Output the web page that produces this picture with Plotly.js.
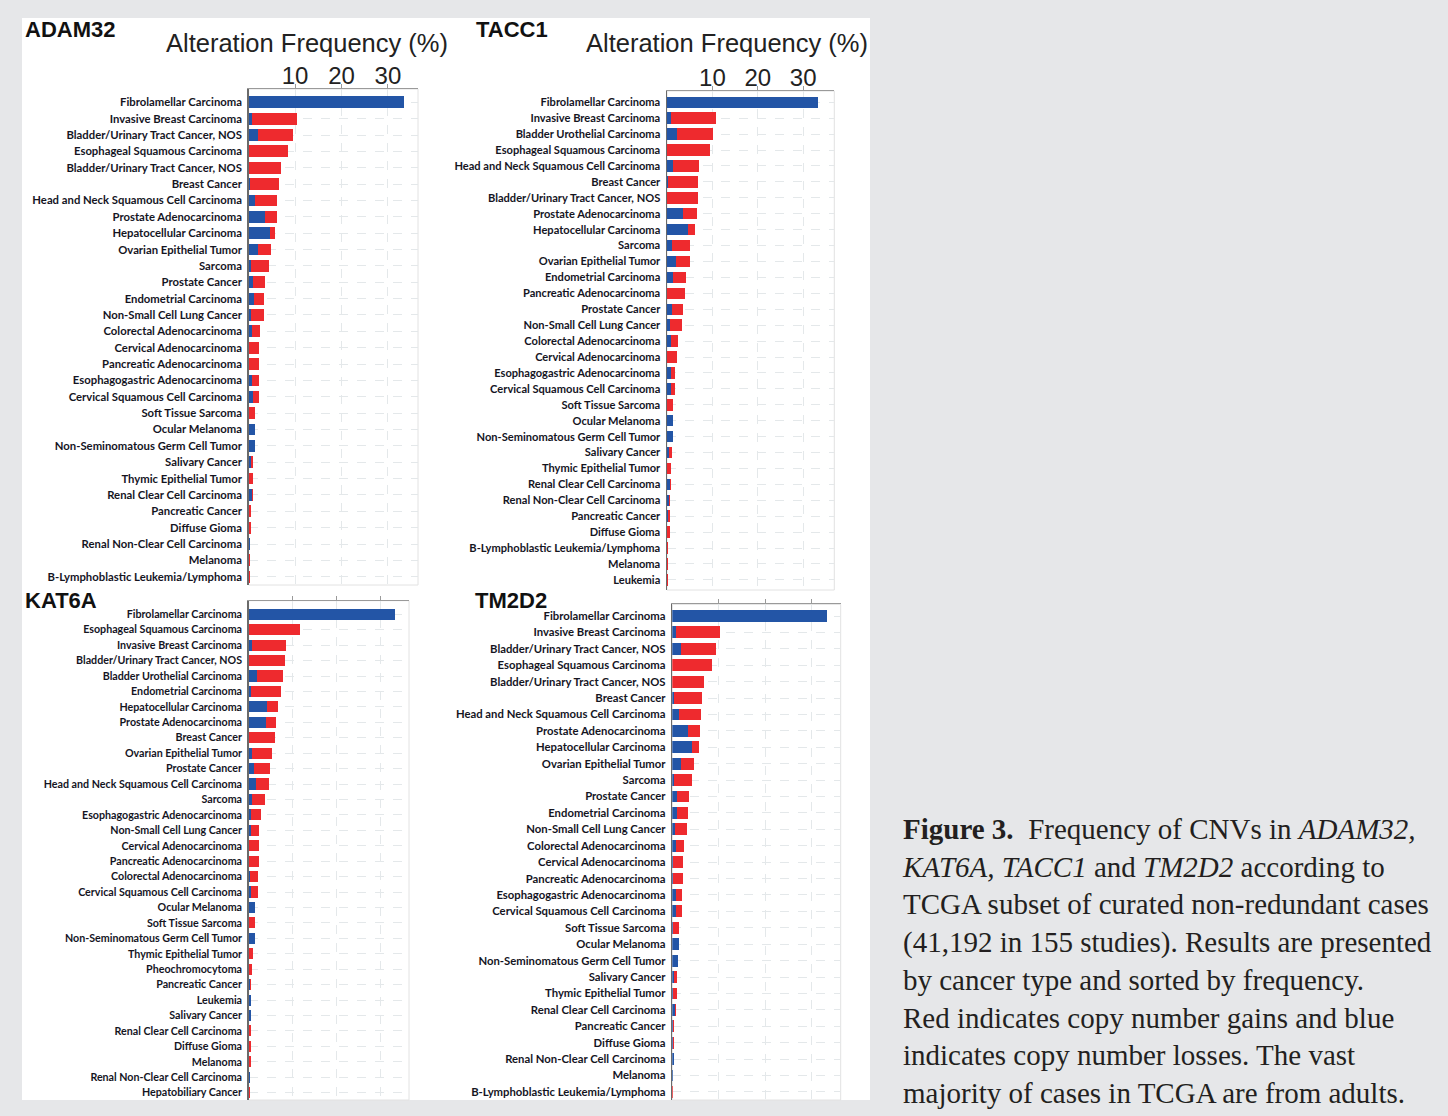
<!DOCTYPE html>
<html><head><meta charset="utf-8">
<script src="https://cdn.plot.ly/plotly-3.0.1.min.js"></script>
<style>html,body{margin:0;padding:0;background:#e6e7e9;} #chart{width:1448px;height:1116px;}</style>
</head><body><div id="chart"></div>
<script>
// ---------------- DATA ----------------
const adam32Categories = ["Fibrolamellar Carcinoma","Invasive Breast Carcinoma","Bladder/Urinary Tract Cancer, NOS","Esophageal Squamous Carcinoma","Bladder/Urinary Tract Cancer, NOS","Breast Cancer","Head and Neck Squamous Cell Carcinoma","Prostate Adenocarcinoma","Hepatocellular Carcinoma","Ovarian Epithelial Tumor","Sarcoma","Prostate Cancer","Endometrial Carcinoma","Non-Small Cell Lung Cancer","Colorectal Adenocarcinoma","Cervical Adenocarcinoma","Pancreatic Adenocarcinoma","Esophagogastric Adenocarcinoma","Cervical Squamous Cell Carcinoma","Soft Tissue Sarcoma","Ocular Melanoma","Non-Seminomatous Germ Cell Tumor","Salivary Cancer","Thymic Epithelial Tumor","Renal Clear Cell Carcinoma","Pancreatic Cancer","Diffuse Gioma","Renal Non-Clear Cell Carcinoma","Melanoma","B-Lymphoblastic Leukemia/Lymphoma"];
const adam32Loss = [33.5,0.8,1.9,0,0,0.3,1.4,3.5,4.5,1.9,0.4,1.0,1.1,0.6,0.8,0.1,0.1,0.7,0.9,0.1,1.4,1.3,0.4,0.1,0.7,0.1,0.05,0.35,0.15,0.05];
const adam32Gain = [0,9.6,7.7,8.5,7.0,6.2,4.8,2.6,1.2,2.8,4.0,2.6,2.3,2.6,1.7,2.1,2.1,1.5,1.3,1.3,0,0,0.6,0.8,0.15,0.4,0.45,0,0.15,0.15];

const tacc1Categories = ["Fibrolamellar Carcinoma","Invasive Breast Carcinoma","Bladder Urothelial Carcinoma","Esophageal Squamous Carcinoma","Head and Neck Squamous Cell Carcinoma","Breast Cancer","Bladder/Urinary Tract Cancer, NOS","Prostate Adenocarcinoma","Hepatocellular Carcinoma","Sarcoma","Ovarian Epithelial Tumor","Endometrial Carcinoma","Pancreatic Adenocarcinoma","Prostate Cancer","Non-Small Cell Lung Cancer","Colorectal Adenocarcinoma","Cervical Adenocarcinoma","Esophagogastric Adenocarcinoma","Cervical Squamous Cell Carcinoma","Soft Tissue Sarcoma","Ocular Melanoma","Non-Seminomatous Germ Cell Tumor","Salivary Cancer","Thymic Epithelial Tumor","Renal Clear Cell Carcinoma","Renal Non-Clear Cell Carcinoma","Pancreatic Cancer","Diffuse Gioma","B-Lymphoblastic Leukemia/Lymphoma","Melanoma","Leukemia"];
const tacc1Loss = [33.3,0.9,2.3,0,1.4,0.3,0,3.5,4.7,1.0,2.0,1.4,0.1,1.0,0.7,0.8,0.1,0.8,0.9,0.1,1.4,1.25,0.5,0.1,0.65,0.45,0.2,0.05,0.05,0.1,0.1];
const tacc1Gain = [0,10.0,7.8,9.5,5.7,6.6,6.9,3.0,1.4,4.1,3.0,2.8,3.8,2.5,2.7,1.7,2.2,1.0,0.8,1.3,0,0,0.5,0.85,0.25,0.25,0.45,0.55,0.25,0.2,0.1];

const kat6aCategories = ["Fibrolamellar Carcinoma","Esophageal Squamous Carcinoma","Invasive Breast Carcinoma","Bladder/Urinary Tract Cancer, NOS","Bladder Urothelial Carcinoma","Endometrial Carcinoma","Hepatocellular Carcinoma","Prostate Adenocarcinoma","Breast Cancer","Ovarian Epithelial Tumor","Prostate Cancer","Head and Neck Squamous Cell Carcinoma","Sarcoma","Esophagogastric Adenocarcinoma","Non-Small Cell Lung Cancer","Cervical Adenocarcinoma","Pancreatic Adenocarcinoma","Colorectal Adenocarcinoma","Cervical Squamous Cell Carcinoma","Ocular Melanoma","Soft Tissue Sarcoma","Non-Seminomatous Germ Cell Tumor","Thymic Epithelial Tumor","Pheochromocytoma","Pancreatic Cancer","Leukemia","Salivary Cancer","Renal Clear Cell Carcinoma","Diffuse Gioma","Melanoma","Renal Non-Clear Cell Carcinoma","Hepatobiliary Cancer"];
const kat6aLoss = [33.3,0,0.8,0,1.8,0.5,4.2,3.9,0.1,0.8,1.2,1.6,0.8,0.6,0.5,0.1,0.1,0.2,0.5,1.45,0.05,1.35,0.05,0.05,0.4,0.45,0.45,0.1,0.05,0.05,0.4,0.05];
const kat6aGain = [0,11.7,7.8,8.35,6.1,6.8,2.4,2.4,5.8,4.6,3.7,3.1,2.8,2.2,1.9,2.25,2.25,2.0,1.6,0,1.3,0,0.95,0.8,0.1,0,0,0.4,0.4,0.4,0,0.15];

const tm2d2Categories = ["Fibrolamellar Carcinoma","Invasive Breast Carcinoma","Bladder/Urinary Tract Cancer, NOS","Esophageal Squamous Carcinoma","Bladder/Urinary Tract Cancer, NOS","Breast Cancer","Head and Neck Squamous Cell Carcinoma","Prostate Adenocarcinoma","Hepatocellular Carcinoma","Ovarian Epithelial Tumor","Sarcoma","Prostate Cancer","Endometrial Carcinoma","Non-Small Cell Lung Cancer","Colorectal Adenocarcinoma","Cervical Adenocarcinoma","Pancreatic Adenocarcinoma","Esophagogastric Adenocarcinoma","Cervical Squamous Cell Carcinoma","Soft Tissue Sarcoma","Ocular Melanoma","Non-Seminomatous Germ Cell Tumor","Salivary Cancer","Thymic Epithelial Tumor","Renal Clear Cell Carcinoma","Pancreatic Cancer","Diffuse Gioma","Renal Non-Clear Cell Carcinoma","Melanoma","B-Lymphoblastic Leukemia/Lymphoma"];
const tm2d2Loss = [33.4,0.8,1.9,0,0,0.3,1.4,3.4,4.3,1.9,0.3,1.0,1.1,0.65,0.7,0.1,0.1,0.7,0.8,0.05,1.35,1.2,0.35,0.1,0.6,0.1,0.05,0.3,0.1,0.03];
const tm2d2Gain = [0,9.5,7.6,8.5,6.9,6.2,4.7,2.6,1.4,2.8,4.0,2.5,2.35,2.45,1.8,2.1,2.1,1.3,1.2,1.3,0,0,0.6,0.85,0.2,0.3,0.4,0,0.15,0.12];

const xTickValues = [10, 20, 30];
const xTickLabels = ["10", "20", "30"];
const axisTitleText = "Alteration Frequency (%)";
const captionLines = [
  "<b>Figure 3.</b>  Frequency of CNVs in <i>ADAM32,</i>",
  "<i>KAT6A, TACC1</i> and <i>TM2D2</i> according to",
  "TCGA subset of curated non-redundant cases",
  "(41,192 in 155 studies). Results are presented",
  "by cancer type and sorted by frequency.",
  "Red indicates copy number gains and blue",
  "indicates copy number losses. The vast",
  "majority of cases in TCGA are from adults."
];

// ---------------- LAYOUT ----------------
const W = 1448, H = 1116;
const px = v => v / W;
const py = v => 1 - v / H;
const BLUE = "#2355a6", RED = "#ee2a2e";

const panels = [
  {gene:"ADAM32", cats:adam32Categories, loss:adam32Loss, gain:adam32Gain, left:248.7, right:418, top:89, bottom:585, xmax:36.49, first:102.3, step:16.36, labels:true, gx:23, gy:30, tx:306.7, fs:11.3},
  {gene:"TACC1", cats:tacc1Categories, loss:tacc1Loss, gain:tacc1Gain, left:667, right:834.3, top:91, bottom:590, xmax:36.85, first:102.3, step:15.92, labels:true, gx:474, gy:29, tx:726.7, fs:11.1},
  {gene:"KAT6A", cats:kat6aCategories, loss:kat6aLoss, gain:kat6aGain, left:248.7, right:409, top:600.7, bottom:1100, xmax:36.5, first:614.3, step:15.43, labels:false, gx:23, gy:600, fs:10.7},
  {gene:"TM2D2", cats:tm2d2Categories, loss:tm2d2Loss, gain:tm2d2Gain, left:672.3, right:840.7, top:604.3, bottom:1100, xmax:36.3, first:616, step:16.41, labels:false, gx:473, gy:600, fs:11.3}
];

const traces = [];
const layout = {
  width: W, height: H,
  margin: {l:0, r:0, t:0, b:0},
  paper_bgcolor: "#e6e7e9",
  plot_bgcolor: "rgba(0,0,0,0)",
  barmode: "stack",
  showlegend: false,
  shapes: [{type:"rect", xref:"paper", yref:"paper", x0:px(22), x1:px(870), y0:py(1100), y1:py(18), fillcolor:"#ffffff", line:{width:0}, layer:"below"}],
  annotations: []
};

panels.forEach((p, i) => {
  const n = i === 0 ? "" : String(i + 1);
  const xa = "x" + n, ya = "y" + n;
  const idx = p.cats.map((_, k) => k);
  traces.push({type:"bar", orientation:"h", x:p.loss, y:idx, xaxis:xa, yaxis:ya, marker:{color:BLUE}, width:0.72, hoverinfo:"skip", name:"Loss"});
  traces.push({type:"bar", orientation:"h", x:p.gain, y:idx, xaxis:xa, yaxis:ya, marker:{color:RED}, width:0.72, hoverinfo:"skip", name:"Gain"});
  const yTopVal = (p.top - p.first) / p.step;
  const yBotVal = (p.bottom - p.first) / p.step;
  layout["xaxis" + n] = {
    anchor: ya, side: "top", domain: [px(p.left), px(p.right)], range: [0, p.xmax],
    tickmode: "array", tickvals: xTickValues, ticktext: xTickLabels, showticklabels: p.labels,
    tickfont: {family: "Liberation Sans, Arial, sans-serif", size: 24, color: "#222"},
    ticklabelstandoff: -10,
    showline: true, linecolor: "#9a9a9a", linewidth: 1.2, mirror: false,
    ticks: "outside", ticklen: 4, tickcolor: "#9a9a9a",
    showgrid: true, gridcolor: "#e4e8ea", griddash: "dash", gridwidth: 1, zeroline: false, fixedrange: true
  };
  layout["yaxis" + n] = {
    anchor: xa, domain: [py(p.bottom), py(p.top)], range: [yBotVal, yTopVal],
    tickmode: "array", tickvals: idx, ticktext: p.cats, ticks: "", ticklabelstandoff: 3,
    tickfont: {family: "Lato, Liberation Sans, sans-serif", size: p.fs, color: "#15151f", weight: 700},
    showline: true, linecolor: "#6a6a6a", linewidth: 1.5,
    showgrid: true, gridcolor: "#e4e8ea", griddash: "dash", gridwidth: 1, zeroline: false, fixedrange: true
  };
  layout.shapes.push({type:"rect", xref: xa + " domain", yref: ya + " domain", x0:0, x1:1, y0:0, y1:1, line:{color:"#e2e2e2", width:1}, fillcolor:"rgba(0,0,0,0)", layer:"below"});
  layout.annotations.push({text: "<b>" + p.gene + "</b>", xref:"paper", yref:"paper", x:px(p.gx), y:py(p.gy), xanchor:"left", yanchor:"middle", showarrow:false, font:{family:"Liberation Sans, Arial, sans-serif", size:22, color:"#111"}});
  if (p.labels) {
    layout.annotations.push({text: axisTitleText, xref:"paper", yref:"paper", x:px(p.tx), y:py(43.5), xanchor:"center", yanchor:"middle", showarrow:false, font:{family:"Liberation Sans, Arial, sans-serif", size:25.5, color:"#222"}});
  }
});

layout.annotations.push({
  text: captionLines.join("<br>"), xref:"paper", yref:"paper", x:px(900), y:py(961),
  xanchor:"left", yanchor:"middle", align:"left", showarrow:false,
  font:{family:"Liberation Serif, Times New Roman, serif", size:29, color:"#231f20"}
});

Plotly.newPlot("chart", traces, layout, {displayModeBar:false, staticPlot:true});
</script>
</body></html>
